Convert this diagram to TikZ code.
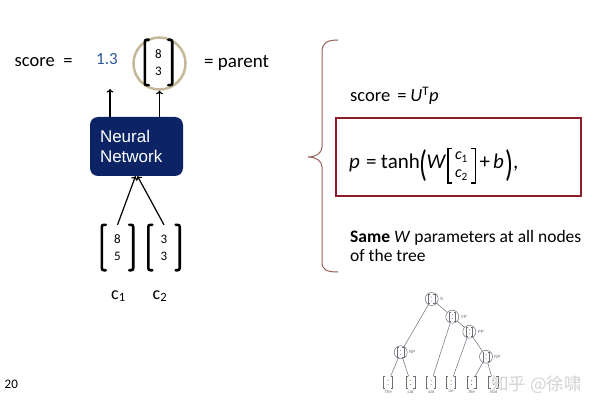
\documentclass[tikz,border=0pt]{standalone}
\usepackage{fontspec}
\setmainfont{Carlito}
\newfontfamily\arialf{Liberation Sans}
\newfontfamily\cjkf{Noto Sans CJK SC}
\usepackage{graphicx}
\usetikzlibrary{arrows.meta}
\definecolor{nnnavy}{RGB}{12,36,102}
\definecolor{valblue}{RGB}{47,85,151}
\definecolor{ringtan}{RGB}{196,184,152}
\definecolor{bracebrown}{RGB}{150,95,90}
\definecolor{boxred}{RGB}{140,28,42}
\definecolor{treegray}{RGB}{110,110,120}
\newcommand\fs[2]{\fontsize{#1}{#2}\selectfont}
\newcommand\drawbrk[3]{%
  \draw[#3] ([xshift=#2]#1.north west) -- (#1.north west) -- (#1.south west) -- ([xshift=#2]#1.south west);
  \draw[#3] ([xshift=-#2]#1.north east) -- (#1.north east) -- (#1.south east) -- ([xshift=-#2]#1.south east);}
\newcommand\treevec[2]{\drawbrk{#1}{#2}{treebrk}%
  \fill[treegray] ([yshift=2pt]#1.center) circle (0.5pt) ([yshift=-2pt]#1.center) circle (0.5pt);}
\begin{document}
\begin{tikzpicture}[x=1pt,y=-1pt,
  txt/.style={inner sep=0, anchor=base west},
  arr/.style={-{To[length=3.5pt,width=7pt]}, line width=1.2pt},
  bigvec/.style={inner sep=0, minimum width=31pt, minimum height=45pt, align=center, font={\fs{13}{17}}},
  thickbrk/.style={line width=2.6pt, line cap=round, rounded corners=2pt},
  fmbrk/.style={line width=1.4pt},
  treebrk/.style={line width=0.45pt, draw=treegray},
  nnbox/.style={fill=nnnavy, rounded corners=8pt, text=white, font={\arialf\fs{17}{20}}, align=left, text width=73pt, inner xsep=10pt, inner ysep=0pt, minimum height=59pt},
  tcirc/.style={circle, draw=treegray, line width=0.5pt, minimum size=13pt, inner sep=0},
  tleaf/.style={inner sep=0, minimum width=9pt, minimum height=12pt},
  tinner/.style={inner sep=0, minimum width=6pt, minimum height=9pt},
  tlab/.style={font={\arialf\fs{4.5}{5}}, text=treegray, inner sep=0.5pt, anchor=west},
  tword/.style={font={\arialf\itshape\fs{4.5}{5}}, text=treegray, inner sep=0, anchor=north},
  tedge/.style={draw=treegray, line width=0.5pt}]
\useasboundingbox[fill=white] (0,0) rectangle (600,409);

% ---- left part
\node[txt, font={\fs{18.5}{20}}] (scoreL) at (14.5,67) {score\hspace{8.5pt}=};
\node[txt, font={\fs{17}{20}}, text=valblue] (val) at (96,65) {1.3};
\node[circle, draw=ringtan, line width=2.5pt, minimum size=52pt, inner sep=0] (parent) at (159.5,63.5) {};
\node[bigvec, minimum width=27pt] (pv) at (158.5,62.5) {8\\3};
\drawbrk{pv}{4pt}{thickbrk}
\node[txt, font={\fs{19}{20}}] (eqp) at (204,68) {= parent};
\coordinate (v1) at (110,89);
\node[nnbox] (nn) at (136.5,146.5) {Neural\\Network};
\draw[arr] (nn.north -| v1) -- (v1);
\draw[arr] (nn.north -| parent.south) -- (parent.south);

\node[bigvec] (c1v) at (117.5,247.5) {8\\5};
\node[bigvec] (c2v) at (164,247.5) {3\\3};
\drawbrk{c1v}{4pt}{thickbrk}
\drawbrk{c2v}{4pt}{thickbrk}
\draw[arr] (c1v.north) -- ([xshift=-1pt]nn.south);
\draw[arr] (c2v.north) -- ([xshift=1pt]nn.south);
\node[txt, font={\fs{18}{20}}] (c1l) at (111,299) {c\textsubscript{1}};
\node[txt, font={\fs{18}{20}}] (c2l) at (152.5,299) {c\textsubscript{2}};

\node[txt, font={\fs{13}{15}}] (pg) at (4.5,388) {20};

% ---- brace
\draw[bracebrown, line width=1pt] (338,40) .. controls (327,40) and (322,43) .. (322,52) -- (322,147)
  .. controls (322,153) and (316,157) .. (308,157) .. controls (316,157) and (322,161) .. (322,167)
  -- (322,262) .. controls (322,270) and (327,272) .. (338,272);

% ---- right part
\node[txt, font={\fs{18.5}{20}}] (scoreR) at (350,102) {score\hspace{7pt}=\hspace{4pt}\textit{U}\textsuperscript{T}\textit{p}};
\node[draw=boxred, line width=2.2pt, minimum width=245pt, minimum height=78pt, inner sep=0] (fbox) at (458.5,157) {};
\node[txt, font={\fs{21}{23}}] (fp) at (349,168) {\textit{p}\hspace{6pt}=\hspace{4.5pt}tanh};
\node[inner sep=0, font={\fs{21}{23}}] (lp) at (423,166) {\scalebox{1.25}[1.75]{(}};
\node[txt, font={\fs{21}{23}}] (fw) at (426.5,168) {\textit{W}};
\node[inner sep=0, minimum width=27pt, minimum height=34pt, align=center, font={\fs{16}{18}}] (fm) at (461.5,166) {\textit{c}\textsubscript{1}\\\textit{c}\textsubscript{2}};
\drawbrk{fm}{4pt}{fmbrk}
\node[txt, font={\fs{21}{23}}] (fb) at (479.5,168) {+\hspace{3pt}\textit{b}};
\node[inner sep=0, font={\fs{21}{23}}] (rp) at (509,166) {\scalebox{1.25}[1.75]{)}};
\node[txt, font={\fs{21}{23}}] (fc) at (513,168) {,};
\node[txt, align=left, font={\fs{17.5}{19.5}}] (same) at (350,261.5) {\textbf{Same} \textit{W} parameters at all nodes\\of the tree};

% ---- tree
\node[tcirc] (tS) at (431.7,299) {};
\node[tcirc] (tVP) at (452.3,316.7) {};
\node[tcirc] (tPP) at (469.3,331.7) {};
\node[tcirc] (tNPa) at (400.7,352.3) {};
\node[tcirc] (tNPb) at (486,356.7) {};
\node[tinner] (iS) at (tS) {};
\node[tinner] (iVP) at (tVP) {};
\node[tinner] (iPP) at (tPP) {};
\node[tinner] (iNPa) at (tNPa) {};
\node[tinner] (iNPb) at (tNPb) {};
\treevec{iS}{1.5pt}
\treevec{iVP}{1.5pt}
\treevec{iPP}{1.5pt}
\treevec{iNPa}{1.5pt}
\treevec{iNPb}{1.5pt}
\node[tlab] (lbS) at ([xshift=1pt]tS.east) {S};
\node[tlab] (lbVP) at ([xshift=1pt]tVP.east) {VP};
\node[tlab] (lbPP) at ([xshift=1pt]tPP.east) {PP};
\node[tlab] (lbNPa) at ([xshift=1pt]tNPa.east) {NP};
\node[tlab] (lbNPb) at ([xshift=1pt]tNPb.east) {NP};
\node[tleaf] (l1) at (388,382.5) {};
\node[tleaf] (l2) at (410.7,382.5) {};
\node[tleaf] (l3) at (431,382.5) {};
\node[tleaf] (l4) at (451,382.5) {};
\node[tleaf] (l5) at (471.7,382.5) {};
\node[tleaf] (l6) at (493.3,382.5) {};
\treevec{l1}{2pt}
\treevec{l2}{2pt}
\treevec{l3}{2pt}
\treevec{l4}{2pt}
\treevec{l5}{2pt}
\treevec{l6}{2pt}
\node[tword] (w1) at ([yshift=-1.5pt]l1.south) {The};
\node[tword] (w2) at ([yshift=-1.5pt]l2.south) {cat};
\node[tword] (w3) at ([yshift=-1.5pt]l3.south) {sat};
\node[tword] (w4) at ([yshift=-1.5pt]l4.south) {on};
\node[tword] (w5) at ([yshift=-1.5pt]l5.south) {the};
\node[tword] (w6) at ([yshift=-1.5pt]l6.south) {mat};
\draw[tedge] (tS) -- (tNPa);
\draw[tedge] (tS) -- (tVP);
\draw[tedge] (tVP) -- (l3);
\draw[tedge] (tVP) -- (tPP);
\draw[tedge] (tPP) -- (l4);
\draw[tedge] (tPP) -- (tNPb);
\draw[tedge] (tNPa) -- (l1);
\draw[tedge] (tNPa) -- (l2);
\draw[tedge] (tNPb) -- (l5);
\draw[tedge] (tNPb) -- (l6);

% ---- watermark
\node[anchor=west, inner sep=0, font={\cjkf\fs{17.5}{20}}, text=gray!40, opacity=0.85] (wm) at (491,385) {知乎 @徐啸};
\end{tikzpicture}
\end{document}
